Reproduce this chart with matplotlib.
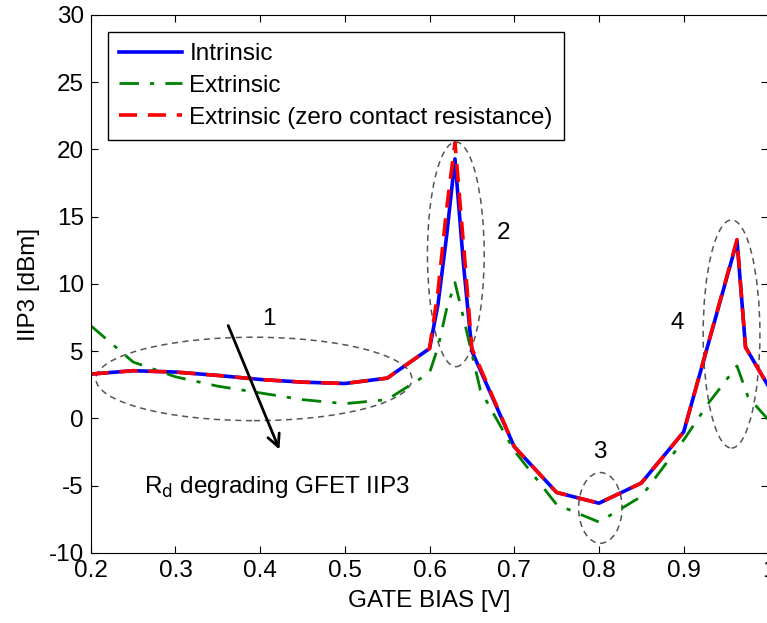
import matplotlib
matplotlib.use('Agg')
import matplotlib.pyplot as plt
from matplotlib.patches import Ellipse

plt.rcParams['font.family'] = ['Liberation Sans', 'DejaVu Sans']
plt.rcParams['axes.unicode_minus'] = False

FS = 17.5

# gate bias samples [V]
x_int = [0.2, 0.25, 0.3, 0.35, 0.4, 0.45, 0.5, 0.55, 0.6, 0.61, 0.62, 0.63, 0.64, 0.65,
         0.7, 0.75, 0.8, 0.85, 0.9, 0.963, 0.973, 1.0]
intrinsic = [3.3, 3.55, 3.45, 3.2, 2.9, 2.7, 2.6, 3.0, 5.2, 8.5, 13.5, 19.3, 11.5, 5.0,
             -2.1, -5.5, -6.3, -4.8, -1.0, 13.2, 5.3, 2.4]
zero_rc = [3.3, 3.55, 3.45, 3.2, 2.9, 2.7, 2.6, 3.0, 5.2, 9.5, 15.5, 20.5, 13.0, 5.2,
           -2.1, -5.5, -6.3, -4.8, -1.0, 13.3, 5.3, 2.4]

x_ext = [0.2, 0.25, 0.3, 0.35, 0.4, 0.45, 0.5, 0.55, 0.6, 0.61, 0.62, 0.63, 0.64, 0.66,
         0.7, 0.75, 0.8, 0.85, 0.9, 0.93, 0.963, 0.976, 1.0]
extrinsic = [6.9, 4.2, 3.1, 2.4, 1.9, 1.4, 1.1, 1.4, 3.4, 5.3, 8.1, 10.1, 7.5, 2.1,
             -2.4, -6.4, -7.7, -5.8, -1.6, 1.2, 3.9, 1.6, -0.1]

fig = plt.figure(figsize=(7.67, 6.23), dpi=100)
ax = fig.add_axes([0.1183, 0.1124, 0.8835, 0.8636])

ax.plot(x_int, intrinsic, color='#0000ff', lw=2.6, label='Intrinsic')
ax.plot(x_ext, extrinsic, color='#008000', lw=2.0, ls=(0, (7, 4, 1.5, 4)), label='Extrinsic')
ax.plot(x_int, zero_rc, color='#ff0000', lw=2.6, ls=(0, (5, 3)),
        label='Extrinsic (zero contact resistance)')

# dashed ellipses marking the regions
regions = [((0.3927, 2.94), 0.373, 6.2),
           ((0.631, 12.2), 0.067, 16.7),
           ((0.8016, -6.65), 0.0513, 5.26),
           ((0.9565, 6.28), 0.067, 16.96)]
for (cx, cy), w, h in regions:
    ax.add_patch(Ellipse((cx, cy), w, h, fill=False, ec='#555555', lw=1.1, ls=(0, (4, 3))))

for txt, tx, ty in [('1', 0.41, 7.4), ('2', 0.687, 13.8), ('3', 0.801, -2.5), ('4', 0.893, 7.1)]:
    ax.text(tx, ty, txt, fontsize=FS, ha='center', va='center')

ax.annotate('', xy=(0.424, -2.5), xytext=(0.361, 7.1),
            arrowprops=dict(arrowstyle='->', color='black', lw=2, mutation_scale=22))
ax.text(0.263, -5.1, r'R$_\mathrm{d}$ degrading GFET IIP3', fontsize=FS, va='center')

ax.set_xlim(0.2, 1.0)
ax.set_ylim(-10, 30)
ax.set_xticks([0.2, 0.3, 0.4, 0.5, 0.6, 0.7, 0.8, 0.9, 1.0])
ax.set_xticklabels(['0.2', '0.3', '0.4', '0.5', '0.6', '0.7', '0.8', '0.9', '1'])
ax.set_yticks(range(-10, 31, 5))
ax.tick_params(direction='in', top=True, right=True, labelsize=FS, length=5, pad=5)
ax.set_xlabel('GATE BIAS [V]', fontsize=FS, labelpad=6)
ax.set_ylabel('IIP3 [dBm]', fontsize=FS, labelpad=6)

leg = ax.legend(loc='upper left', bbox_to_anchor=(0.0255, 0.968), fontsize=FS,
                fancybox=False, edgecolor='black', framealpha=1, handlelength=2.6,
                borderaxespad=0, labelspacing=0.4, handletextpad=0.3, borderpad=0.45)
leg.get_frame().set_linewidth(1.0)

fig.savefig('out.png', dpi=100)
